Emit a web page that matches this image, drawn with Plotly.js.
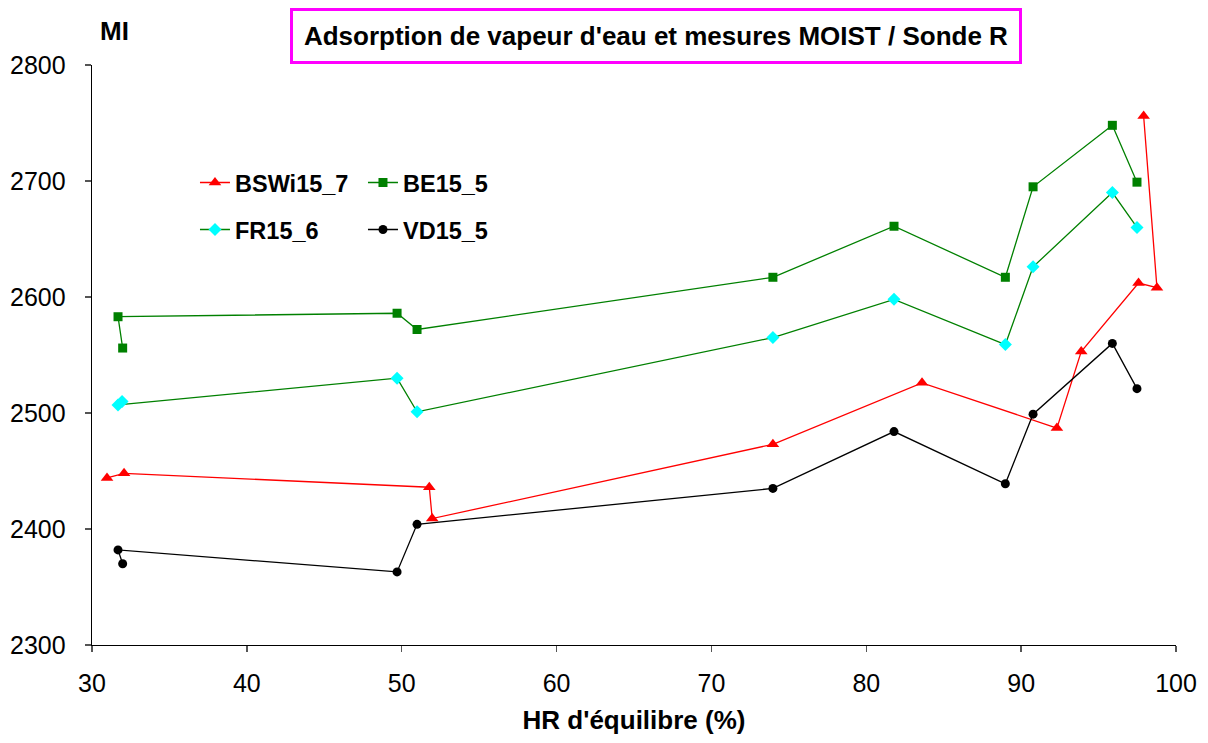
<!DOCTYPE html>
<html>
<head>
<meta charset="utf-8">
<script src="https://cdn.plot.ly/plotly-3.0.1.min.js"></script>
<style>html,body{margin:0;padding:0;background:#fff;}#chart{width:1208px;height:743px;}</style>
</head>
<body>
<div id="chart"></div>
<script>
// Data
var bswiX = [30.97, 32.07, 51.78, 51.97, 73.97, 83.60, 92.31, 93.88, 97.58, 98.77, 97.91];
var bswiY = [2444, 2448, 2436, 2409, 2473, 2526, 2487, 2553, 2612, 2608, 2756];

var beX = [31.98, 31.68, 49.70, 50.99, 73.97, 81.79, 88.98, 90.77, 95.89, 97.48];
var beY = [2556, 2583, 2586, 2572, 2617, 2661, 2617, 2695, 2748, 2699];

var frX = [31.94, 31.68, 49.70, 50.99, 73.97, 81.79, 88.98, 90.77, 95.89, 97.48];
var frY = [2510, 2507, 2530, 2501, 2565, 2598, 2559, 2626, 2690, 2660];

var vdX = [31.98, 31.68, 49.70, 50.99, 73.97, 81.79, 88.98, 90.77, 95.89, 97.48];
var vdY = [2370, 2382, 2363, 2404, 2435, 2484, 2439, 2499, 2560, 2521];

var names = ['BSWi15_7', 'BE15_5', 'FR15_6', 'VD15_5'];
var xTitle = "HR d'équilibre (%)";
var yTitle = 'MI';
var chartTitle = "Adsorption de vapeur d'eau et mesures MOIST / Sonde R";

var traces = [
  {x: bswiX, y: bswiY, name: names[0], mode: 'lines+markers', legend: 'legend',
   line: {color: '#FF0000', width: 1.3}, marker: {symbol: 'triangle-up', size: 11, color: '#FF0000'}},
  {x: beX, y: beY, name: names[1], mode: 'lines+markers', legend: 'legend',
   line: {color: '#008000', width: 1.3}, marker: {symbol: 'square', size: 9, color: '#008000'}},
  {x: frX, y: frY, name: names[2], mode: 'lines+markers', legend: 'legend2',
   line: {color: '#008000', width: 1.3}, marker: {symbol: 'diamond', size: 10, color: '#00FFFF'}},
  {x: vdX, y: vdY, name: names[3], mode: 'lines+markers', legend: 'legend2',
   line: {color: '#000000', width: 1.3}, marker: {symbol: 'circle', size: 9, color: '#000000'}}
];

var legFont = {family: 'Liberation Sans, Arial, sans-serif', size: 23.5, color: '#000', weight: 'bold'};

var layout = {
  width: 1208, height: 743,
  margin: {l: 92, r: 32, t: 65, b: 98},
  paper_bgcolor: '#fff', plot_bgcolor: '#fff',
  font: {family: 'Liberation Sans, Arial, sans-serif', size: 25, color: '#000'},
  showlegend: true,
  xaxis: {
    range: [30, 100], dtick: 10, tick0: 30,
    showgrid: false, zeroline: false,
    showline: true, linecolor: '#000', linewidth: 1.3,
    ticks: 'outside', ticklen: 6, tickcolor: '#555', tickwidth: 1.3,
    tickfont: {size: 25}, ticklabelstandoff: 10,
    title: {text: xTitle, font: {size: 26, weight: 'bold'}, standoff: 14}
  },
  yaxis: {
    range: [2300, 2800], dtick: 100,
    showgrid: false, zeroline: false,
    showline: true, linecolor: '#000', linewidth: 1.3,
    ticks: 'outside', ticklen: 6, tickcolor: '#555', tickwidth: 1.3,
    tickfont: {size: 25}, ticklabelstandoff: 14
  },
  legend: {
    orientation: 'h', x: 0.095, xanchor: 'left', y: 0.797, yanchor: 'middle',
    font: legFont, bgcolor: 'rgba(0,0,0,0)', entrywidth: 123, entrywidthmode: 'pixels',
    itemwidth: 30, tracegroupgap: 0
  },
  legend2: {
    orientation: 'h', x: 0.095, xanchor: 'left', y: 0.716, yanchor: 'middle',
    font: legFont, bgcolor: 'rgba(0,0,0,0)', entrywidth: 123, entrywidthmode: 'pixels',
    itemwidth: 30, tracegroupgap: 0
  },
  annotations: [
    {text: chartTitle, xref: 'paper', yref: 'paper', x: 0.520, y: (645 - 36) / 580,
     xanchor: 'center', yanchor: 'middle', showarrow: false,
     font: {size: 26, weight: 'bold', color: '#000'},
     bordercolor: '#FF00FF', borderwidth: 3, borderpad: 4, width: 718, height: 42, bgcolor: '#fff'},
    {text: yTitle, xref: 'paper', yref: 'paper', x: (114 - 92) / 1084, y: (645 - 31) / 580,
     xanchor: 'center', yanchor: 'middle', showarrow: false,
     font: {size: 26, weight: 'bold', color: '#000'}}
  ]
};

Plotly.newPlot('chart', traces, layout, {displayModeBar: false, staticPlot: true});
</script>
</body>
</html>
